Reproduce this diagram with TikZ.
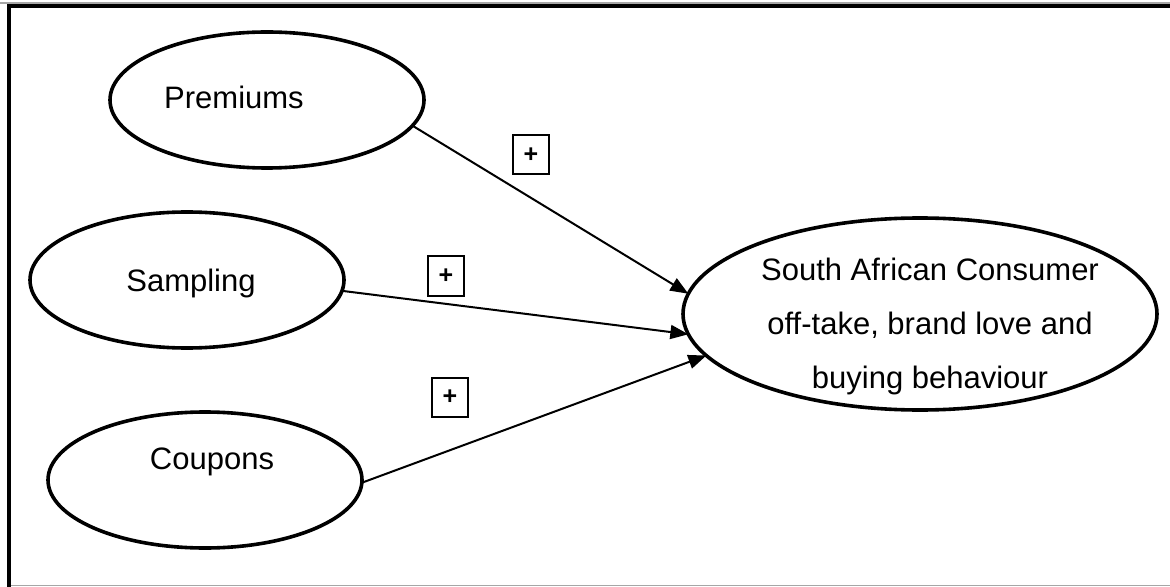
\documentclass[tikz,border=0pt]{standalone}
\usepackage{fontspec}
\setmainfont{Liberation Sans}
\usetikzlibrary{shapes.geometric,arrows.meta}
\begin{document}
\begin{tikzpicture}[x=0.5pt,y=-0.5pt,
  oval/.style={draw,ellipse,line width=1.8pt,inner sep=0pt,outer sep=0pt,minimum width=157pt,minimum height=68pt},
  bigoval/.style={oval,minimum width=237pt,minimum height=96pt},
  lbl/.style={font=\fontsize{15.5}{27}\selectfont,inner sep=0pt,align=center},
  plusbox/.style={draw,line width=1pt,minimum width=18pt,minimum height=19.5pt,inner sep=0pt,font=\fontsize{12.5}{12.5}\selectfont\bfseries},
  link/.style={line width=1pt,-{Triangle[length=9pt,width=7pt]}}]
\useasboundingbox (0,0) rectangle (1170,587);
% frame
\draw[gray!70,line width=0.6pt] (0,3) -- (1170,3);
\draw[gray!70,line width=0.6pt] (7,585.5) -- (1170,585.5);
\draw[line width=2pt] (7,5.7) -- (1170,5.7);
\draw[line width=2pt] (9,4.7) -- (9,587);
% ellipses
\node[oval] (prem) at (267,100) {};
\node[lbl] (premT) at (234,97) {Premiums};
\node[oval] (samp) at (187,280) {};
\node[lbl] (sampT) at (191,283) {Sampling};
\node[oval] (coup) at (205,480) {};
\node[lbl] (coupT) at (212,462) {Coupons};
\node[bigoval] (sac) at (920,314) {};
\node[lbl] (sacT) at (930,326) {South African Consumer\\off-take, brand love and\\buying behaviour};
% plus boxes
\node[plusbox] (p1) at (531,155) {+};
\node[plusbox] (p2) at (446,276) {+};
\node[plusbox] (p3) at (450,397) {+};
% connectors
\draw[link] (prem.-10.6) -- (sac.175.7);
\draw[link] (samp.-4) -- (sac.185.3);
\draw[link] (coup.-1) -- (sac.191);
\end{tikzpicture}
\end{document}
